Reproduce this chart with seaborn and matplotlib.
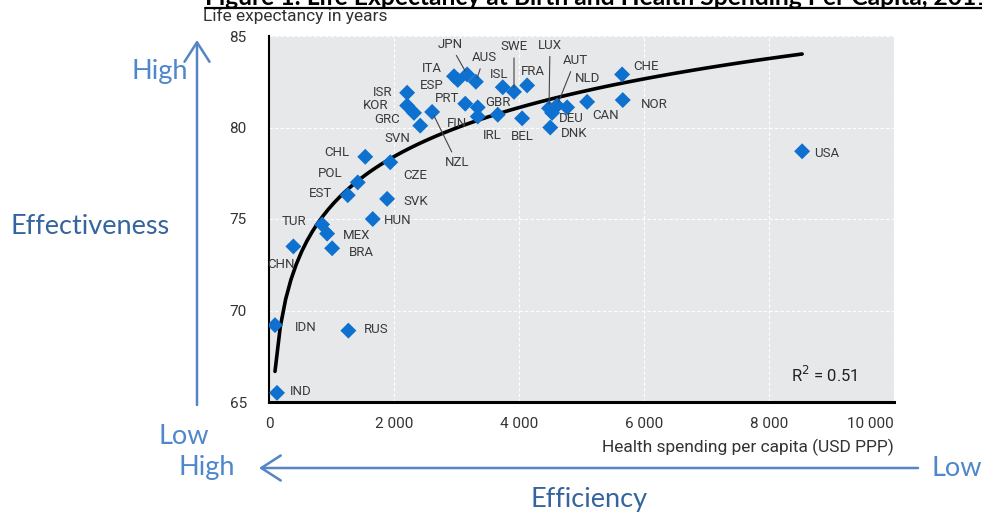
import numpy as np
import pandas as pd
import matplotlib
matplotlib.use("Agg")
import matplotlib.pyplot as plt
import seaborn as sns
from matplotlib.lines import Line2D
from matplotlib.patches import Rectangle, FancyArrowPatch

# Life expectancy at birth vs health spending per capita (USD PPP), 2011
countries = ["IND", "IDN", "RUS", "CHN", "TUR", "MEX", "BRA", "HUN", "SVK", "EST",
             "POL", "CHL", "CZE", "ISR", "KOR", "GRC", "SVN", "NZL", "ITA", "ESP",
             "JPN", "AUS", "PRT", "GBR", "FIN", "ISL", "SWE", "FRA", "IRL", "BEL",
             "LUX", "AUT", "DEU", "NLD", "CAN", "DNK", "CHE", "NOR", "USA"]
spending = [128, 96, 1270, 390, 850, 930, 1010, 1660, 1890, 1260,
            1420, 1540, 1940, 2210, 2210, 2320, 2420, 2610, 2960, 3020,
            3170, 3310, 3140, 3340, 3340, 3740, 3920, 4130, 3660, 4050,
            4480, 4610, 4530, 4770, 5090, 4500, 5650, 5660, 8530]
life_exp = [65.5, 69.2, 68.9, 73.5, 74.7, 74.2, 73.4, 75.0, 76.1, 76.3,
            77.0, 78.4, 78.1, 81.9, 81.2, 80.8, 80.1, 80.85, 82.8, 82.6,
            82.9, 82.5, 81.3, 81.1, 80.6, 82.2, 81.95, 82.3, 80.7, 80.5,
            81.05, 81.2, 80.8, 81.1, 81.4, 80.0, 82.9, 81.5, 78.7]
r_squared = "0.51"

x_ticks = [0, 2000, 4000, 6000, 8000, 10000]
x_tick_labels = ["0", "2 000", "4 000", "6 000", "8 000", "10 000"]
y_ticks = [65, 70, 75, 80, 85]

df = pd.DataFrame({"country": countries, "spending": spending, "life_exp": life_exp})

# label offsets from the marker, in pixels (dx, dy up)
label_offsets = {
    "IND": (24, 1), "IDN": (31, -2), "RUS": (28, 1), "CHN": (-12, -18),
    "TUR": (-28, 3), "MEX": (29, -2), "BRA": (29, -4), "HUN": (25, -1),
    "SVK": (29, -3), "EST": (-27, 2), "POL": (-28, 9), "CHL": (-28, 4),
    "CZE": (25, -13), "ISR": (-25, 0), "KOR": (-32, 0), "GRC": (-27, -7),
    "SVN": (-23, -13), "NZL": (25, -51), "ITA": (-22, 8), "ESP": (-26, -6),
    "JPN": (-17, 30), "AUS": (8, 24), "PRT": (-18, 5), "GBR": (20, 5),
    "FIN": (-21, -7), "ISL": (-4, 13), "SWE": (0, 45), "FRA": (6, 14),
    "IRL": (-6, -21), "BEL": (0, -18), "LUX": (1, 63), "AUT": (18, 45),
    "DEU": (19, -6), "NLD": (20, 29), "CAN": (18, -14), "DNK": (24, -6),
    "CHE": (24, 8), "NOR": (31, -4), "USA": (25, -2),
}
leader_lines = ["NZL", "JPN", "AUS", "SWE", "LUX", "AUT"]

sns.set_style("darkgrid", rc={
    "axes.facecolor": "#e7e8ea",
    "grid.color": "white",
    "grid.linestyle": (0, (3, 2)),
    "grid.linewidth": 1.0,
})
plt.rcParams["font.family"] = ["Roboto", "DejaVu Sans"]

W, H = 982, 516
fig = plt.figure(figsize=(W / 100, H / 100), dpi=100)
ax = fig.add_axes([269 / W, 1 - 402 / H, (894 - 269) / W, (402 - 36) / H])

sns.regplot(data=df, x="spending", y="life_exp", logx=True, ci=None, scatter=False,
            color="black", line_kws={"linewidth": 2.6, "solid_capstyle": "round"}, ax=ax)
sns.scatterplot(data=df, x="spending", y="life_exp", marker="D", s=66,
                color="#0e70cf", edgecolor="none", zorder=3, ax=ax)

for c, xv, yv in zip(countries, spending, life_exp):
    dx, dy = label_offsets[c]
    props = None
    if c in leader_lines:
        props = dict(arrowstyle="-", color="#444444", lw=0.8, shrinkA=1, shrinkB=3)
    ax.annotate(c, (xv, yv), xytext=(dx, dy), textcoords="offset pixels",
                ha="center", va="center", fontsize=9.5, color="#3a3a3a",
                arrowprops=props, zorder=4)

ax.text((858 - 269) / 625, 0.074, "R$^2$ = " + r_squared, transform=ax.transAxes,
        ha="right", va="center", fontsize=12, color="#222222")

ax.set_xlim(0, 10000)
ax.set_ylim(65, 85)
ax.set_xticks(x_ticks)
ax.set_xticklabels(x_tick_labels)
ax.set_yticks(y_ticks)
ax.get_xticklabels()[-1].set_ha("right")
ax.tick_params(axis="x", direction="in", length=3, width=0.8, color="#555555",
               labelsize=11, labelcolor="#333333", pad=11)
ax.tick_params(axis="y", direction="out", length=4, width=0.8, color="#333333",
               labelsize=11, labelcolor="#333333", pad=12)
ax.set_xlabel("")
ax.set_ylabel("")
for side in ["top", "right"]:
    ax.spines[side].set_visible(False)
ax.spines["left"].set_visible(True)
ax.spines["left"].set_color("black")
ax.spines["left"].set_linewidth(1.5)
ax.spines["bottom"].set_visible(True)
ax.spines["bottom"].set_color("black")
ax.spines["bottom"].set_linewidth(2.2)

fig.text(894 / W, 1 - 447 / H, "Health spending per capita (USD PPP)", ha="right",
         va="center", fontsize=12.5, color="#333333")
fig.text(203 / W, 1 - 16 / H, "Life expectancy in years", ha="left", va="center",
         fontsize=12.5, color="#333333")

# title strip, clipped at the top of the picture
fig.patches.append(Rectangle((0, 1 - 9 / H), 1, 9 / H, transform=fig.transFigure,
                             facecolor="white", edgecolor="none", zorder=5))
fig.text(205 / W, 1 - 5 / H, "Figure 1: Life Expectancy at Birth and Health Spending Per Capita, 2011",
         ha="left", va="baseline", fontsize=17.7, fontweight="bold", color="black",
         family=["Lato", "DejaVu Sans"], zorder=6)
fig.add_artist(Line2D([205 / W, 1.0], [1 - 7.5 / H, 1 - 7.5 / H], color="black",
                      lw=1.6, zorder=7))

# effectiveness / efficiency annotations
blue_light = "#4f86cc"
blue_dark = "#35659e"
arrow_kw = dict(arrowstyle="->, head_length=0.7, head_width=0.45", color="#5585c4",
                lw=1.8, mutation_scale=20, shrinkA=0, shrinkB=0)
fig.add_artist(FancyArrowPatch((197 / W, 1 - 405 / H), (197 / W, 1 - 40 / H),
                               transform=fig.transFigure, **arrow_kw))
fig.add_artist(FancyArrowPatch((918 / W, 1 - 468 / H), (259 / W, 1 - 468 / H),
                               transform=fig.transFigure, **arrow_kw))
ann = dict(fontsize=19.5, family=["Lato", "DejaVu Sans"], va="center")
fig.text(160 / W, 1 - 71 / H, "High", ha="center", color=blue_light, **ann)
fig.text(90 / W, 1 - 227 / H, "Effectiveness", ha="center", color=blue_dark, **ann)
fig.text(184 / W, 1 - 436 / H, "Low", ha="center", color=blue_light, **ann)
fig.text(207 / W, 1 - 468 / H, "High", ha="center", color=blue_light, **ann)
fig.text(957 / W, 1 - 468 / H, "Low", ha="center", color=blue_light, **ann)
fig.text(589 / W, 1 - 500 / H, "Efficiency", ha="center", color=blue_dark, **ann)

fig.savefig("out.png", dpi=100)
